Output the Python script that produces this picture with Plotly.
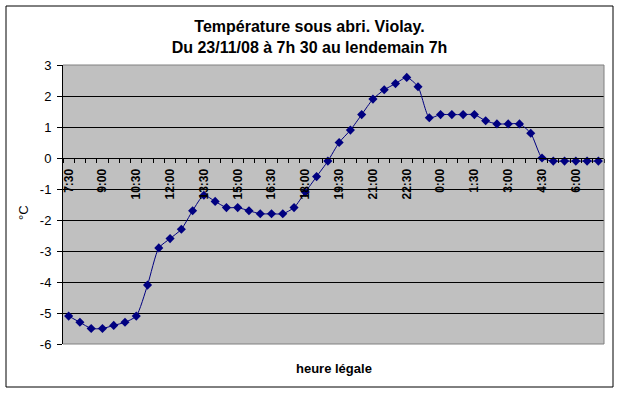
import plotly.graph_objects as go

times = ["7:30", "8:00", "8:30", "9:00", "9:30", "10:00", "10:30", "11:00", "11:30", "12:00",
         "12:30", "13:00", "13:30", "14:00", "14:30", "15:00", "15:30", "16:00", "16:30", "17:00",
         "17:30", "18:00", "18:30", "19:00", "19:30", "20:00", "20:30", "21:00", "21:30", "22:00",
         "22:30", "23:00", "23:30", "0:00", "0:30", "1:00", "1:30", "2:00", "2:30", "3:00",
         "3:30", "4:00", "4:30", "5:00", "5:30", "6:00", "6:30", "7:00"]

temps = [-5.1, -5.3, -5.5, -5.5, -5.4, -5.3, -5.1, -4.1, -2.9, -2.6,
         -2.3, -1.7, -1.2, -1.4, -1.6, -1.6, -1.7, -1.8, -1.8, -1.8,
         -1.6, -1.1, -0.6, -0.1, 0.5, 0.9, 1.4, 1.9, 2.2, 2.4,
         2.6, 2.3, 1.3, 1.4, 1.4, 1.4, 1.4, 1.2, 1.1, 1.1,
         1.1, 0.8, 0.0, -0.1, -0.1, -0.1, -0.1, -0.1]

shown_labels = ["7:30", "9:00", "10:30", "12:00", "13:30", "15:00", "16:30", "18:00",
                "19:30", "21:00", "22:30", "0:00", "1:30", "3:00", "4:30", "6:00"]

y_ticks = [3, 2, 1, 0, -1, -2, -3, -4, -5, -6]
y_ticktext = ["3", "2", "1", "0", "-1", "-2", "-3", "-4", "-5", "-6"]

FONT = "Liberation Sans, Arial, sans-serif"
NAVY = "#000080"

fig = go.Figure()
fig.add_trace(go.Scatter(
    x=times, y=temps, mode="lines+markers",
    line=dict(color=NAVY, width=1, shape="spline", smoothing=0.6),
    marker=dict(symbol="diamond", size=7, color=NAVY),
    showlegend=False, cliponaxis=False,
))

ticktext = [("<b>%s</b>" % t) if t in shown_labels else "" for t in times]

ymin, ymax = -6, 3
fig.update_layout(
    width=619, height=395,
    margin=dict(l=63, r=15, t=65, b=51),
    paper_bgcolor="white",
    plot_bgcolor="#C0C0C0",
    font=dict(family=FONT, color="black"),
    title=dict(
        text="<b>Température sous abri. Violay.<br>Du 23/11/08 à 7h 30 au lendemain 7h</b>",
        x=0.5, xref="container", xanchor="center",
        y=1 - 32 / 395, yref="container", yanchor="middle",
        font=dict(family=FONT, size=16, color="black"),
    ),
    xaxis=dict(
        type="category",
        range=[-0.5, len(times) - 0.5],
        tickmode="array", tickvals=times, ticktext=ticktext,
        tickson="boundaries",
        tickangle=-90,
        ticks="outside", ticklen=4, tickcolor="black", tickwidth=1,
        ticklabelstandoff=5,
        tickfont=dict(family=FONT, size=12, color="black"),
        showgrid=False, zeroline=False,
        showline=True, linecolor="black", linewidth=1,
        anchor="free", position=(0 - ymin) / (ymax - ymin),
    ),
    yaxis=dict(
        range=[ymin, ymax],
        tickmode="array", tickvals=y_ticks, ticktext=y_ticktext,
        ticks="outside", ticklen=5, tickcolor="black",
        ticklabelstandoff=3,
        tickfont=dict(family=FONT, size=13, color="black"),
        showgrid=True, gridcolor="black", gridwidth=1,
        zeroline=False,
        showline=True, linecolor="black", linewidth=1,
    ),
    shapes=[
        dict(type="path", xref="paper", yref="paper",
             path="M 0,1 L 1,1 L 1,0 L 0,0",
             line=dict(color="#808080", width=1), layer="above"),
        dict(type="rect", xref="paper", yref="paper",
             x0=(6 - 63) / 541, x1=(613 - 63) / 541,
             y0=(344 - 387) / 279, y1=1 + (65 - 6) / 279,
             line=dict(color="black", width=1), fillcolor="rgba(0,0,0,0)"),
    ],
    annotations=[
        dict(text="<b>heure légale</b>", xref="paper", yref="paper",
             x=0.5, y=(344 - 368) / 279, xanchor="center", yanchor="middle",
             showarrow=False, font=dict(family=FONT, size=13, color="black")),
        dict(text="°C", xref="paper", yref="paper",
             x=(23 - 63) / 541, y=(344 - 213) / 279, xanchor="center", yanchor="middle",
             textangle=-90, showarrow=False,
             font=dict(family=FONT, size=13, color="black")),
    ],
)

fig.write_html("out.html", config={"displayModeBar": False},
               post_script="document.body.style.margin='0';")
